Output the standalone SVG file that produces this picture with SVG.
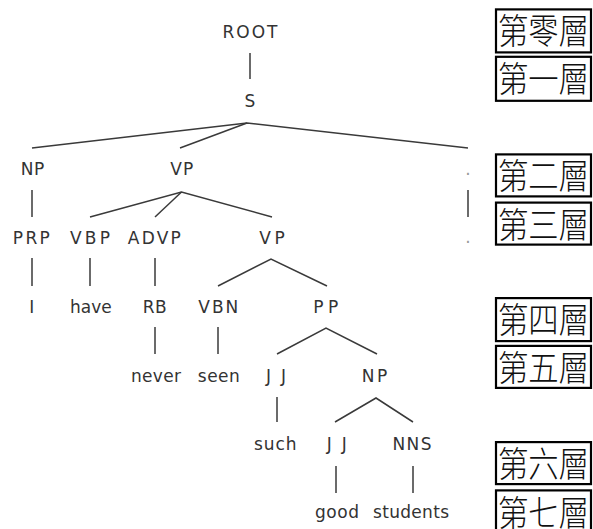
<svg xmlns="http://www.w3.org/2000/svg" width="593" height="529" viewBox="0 0 593 529">
<style>
.t{font-family:"DejaVu Sans","Liberation Sans",sans-serif;font-size:17px;fill:#333;text-anchor:middle}
.d{font-family:"DejaVu Sans",sans-serif;font-size:17px;fill:#999;text-anchor:middle}
.e{stroke:#3a3a3a;stroke-width:1.5;fill:none}
.b{fill:#fff;stroke:#000;stroke-width:2.2}
.c{font-family:"Noto Sans CJK TC","Noto Sans CJK SC",sans-serif;font-size:35px;font-weight:300;fill:#111}
</style>
<rect width="593" height="529" fill="#fff"/>
<g id="connectors" class="e">
<line x1="250" y1="53" x2="250" y2="79"/>
<polyline points="32,148 247,123 468,148"/>
<line x1="247" y1="123" x2="180" y2="148"/>
<line x1="32" y1="190" x2="32" y2="217"/>
<polyline points="90,217 181.5,192 272,217"/>
<line x1="181.5" y1="192" x2="155" y2="217"/>
<line x1="468" y1="190" x2="468" y2="217"/>
<line x1="32" y1="258" x2="32" y2="286"/>
<line x1="90" y1="258" x2="90" y2="286"/>
<line x1="155" y1="258" x2="155" y2="286"/>
<polyline points="218,286 271,259 327,286"/>
<line x1="155" y1="327" x2="155" y2="354"/>
<line x1="218" y1="327" x2="218" y2="354"/>
<polyline points="277,354 326,328 377,354"/>
<line x1="277" y1="397" x2="277" y2="422"/>
<polyline points="335,422 376,398 413,422"/>
<line x1="336" y1="466" x2="336" y2="493"/>
<line x1="413" y1="466" x2="413" y2="493"/>
</g>
<g id="n-root"><text class="t" x="250" y="38.3" textLength="55">ROOT</text></g>
<g id="n-s"><text class="t" x="250" y="106.6">S</text></g>
<g id="n-np1"><text class="t" x="32.5" y="175.2" textLength="23.7">NP</text></g>
<g id="n-vp1"><text class="t" x="181.7" y="175.2" textLength="23">VP</text></g>
<g id="n-dot1"><text class="d" x="468" y="174.8">.</text></g>
<g id="n-prp"><text class="t" x="31.3" y="243.6" textLength="37">PRP</text></g>
<g id="n-vbp"><text class="t" x="90" y="243.6" textLength="40">VBP</text></g>
<g id="n-advp"><text class="t" x="154.3" y="243.6" textLength="53">ADVP</text></g>
<g id="n-vp2"><text class="t" x="272" y="243.6" textLength="25.7">VP</text></g>
<g id="n-dot2"><text class="d" x="468" y="242.5">.</text></g>
<g id="n-i"><text class="t" x="31.7" y="312.8">I</text></g>
<g id="n-have"><text class="t" x="90.8" y="312.8" textLength="41.7">have</text></g>
<g id="n-rb"><text class="t" x="154.7" y="312.8" textLength="24">RB</text></g>
<g id="n-vbn"><text class="t" x="218.3" y="312.8" textLength="40">VBN</text></g>
<g id="n-pp"><text class="t" x="325.8" y="312.8" textLength="25">PP</text></g>
<g id="n-never"><text class="t" x="156" y="381.5" textLength="50">never</text></g>
<g id="n-seen"><text class="t" x="218.8" y="381.5" textLength="42">seen</text></g>
<g id="n-jj1"><text class="t" x="276" y="381.5" textLength="20">JJ</text></g>
<g id="n-np2"><text class="t" x="374.5" y="381.5" textLength="25.7">NP</text></g>
<g id="n-such"><text class="t" x="275.3" y="450" textLength="42.7">such</text></g>
<g id="n-jj2"><text class="t" x="336.7" y="450" textLength="20">JJ</text></g>
<g id="n-nns"><text class="t" x="412" y="450" textLength="39">NNS</text></g>
<g id="n-good"><text class="t" x="337" y="518.2" textLength="44">good</text></g>
<g id="n-students"><text class="t" x="411" y="518.2" textLength="76">students</text></g>
<g id="l0"><rect class="b" x="496" y="9.4" width="95" height="43"/><text class="c" x="498" y="44.4" textLength="91" lengthAdjust="spacingAndGlyphs">第零層</text></g>
<g id="l1"><rect class="b" x="496" y="56.8" width="95" height="44"/><text class="c" x="498" y="92.3" textLength="91" lengthAdjust="spacingAndGlyphs">第一層</text></g>
<g id="l2"><rect class="b" x="496" y="154.4" width="95" height="42"/><text class="c" x="498" y="189.4" textLength="91" lengthAdjust="spacingAndGlyphs">第二層</text></g>
<g id="l3"><rect class="b" x="496" y="202.6" width="95" height="42"/><text class="c" x="498" y="237.6" textLength="91" lengthAdjust="spacingAndGlyphs">第三層</text></g>
<g id="l4"><rect class="b" x="496" y="298.1" width="95" height="43"/><text class="c" x="498" y="333.4" textLength="91" lengthAdjust="spacingAndGlyphs">第四層</text></g>
<g id="l5"><rect class="b" x="496" y="345.9" width="95" height="42"/><text class="c" x="498" y="380.9" textLength="91" lengthAdjust="spacingAndGlyphs">第五層</text></g>
<g id="l6"><rect class="b" x="496" y="442.1" width="95" height="42"/><text class="c" x="498" y="477.1" textLength="91" lengthAdjust="spacingAndGlyphs">第六層</text></g>
<g id="l7"><rect class="b" x="496" y="490.4" width="95" height="45"/><text class="c" x="498" y="526" textLength="91" lengthAdjust="spacingAndGlyphs">第七層</text></g>
</svg>
